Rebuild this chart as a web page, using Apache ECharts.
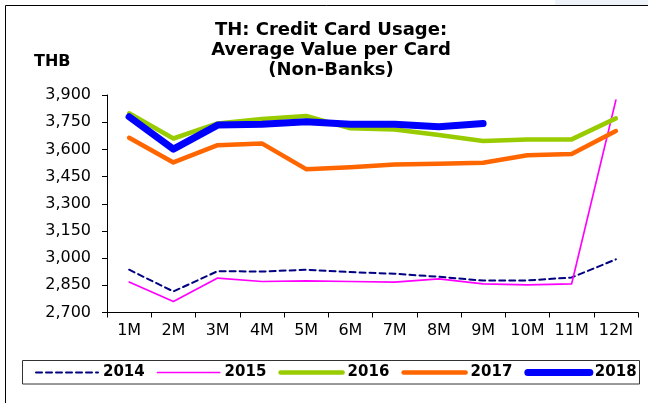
<!DOCTYPE html>
<html>
<head>
<meta charset="utf-8">
<script src="https://cdn.jsdelivr.net/npm/echarts@6/dist/echarts.min.js"></script>
<style>
  html, body { margin: 0; padding: 0; background: #fff; }
  #chart { width: 648px; height: 403px; }
</style>
</head>
<body>
<div id="chart"></div>
<script>
// Months on the category axis
const months = ['1M', '2M', '3M', '4M', '5M', '6M', '7M', '8M', '9M', '10M', '11M', '12M'];

// Average value per card (THB), non-bank issuers
const v2014 = [2936, 2816, 2928, 2926, 2936, 2923, 2914, 2897, 2876, 2877, 2893, 2993];
const v2015 = [2868, 2761, 2890, 2871, 2875, 2871, 2868, 2886, 2858, 2852, 2858, 3872];
const v2016 = [3799, 3660, 3743, 3767, 3784, 3716, 3710, 3679, 3646, 3655, 3655, 3771];
const v2017 = [3664, 3528, 3623, 3633, 3491, 3502, 3517, 3521, 3526, 3568, 3575, 3701];
const v2018 = [3780, 3601, 3734, 3738, 3753, 3738, 3738, 3725, 3743];

const yMin = 2700, yMax = 3900, yStep = 150;

const titleText = 'TH: Credit Card Usage:\nAverage Value per Card\n(Non-Banks)';
const unitText = 'THB';

const boldFont = '"DejaVu Sans", "Liberation Sans", Arial, sans-serif';
const axisFont = '"DejaVu Sans", "Liberation Sans", Arial, sans-serif';

// per-year line looks: colour, width, dash
const styles = {
  '2014': { color: '#000080', width: 2, type: [6, 4] },
  '2015': { color: '#ff00ff', width: 1.7, type: 'solid' },
  '2016': { color: '#99cc00', width: 4.5, type: 'solid' },
  '2017': { color: '#ff6600', width: 4.5, type: 'solid' },
  '2018': { color: '#0000ff', width: 7, type: 'solid' }
};

function lineSeries(name, data) {
  const s = styles[name];
  return {
    name: name,
    type: 'line',
    data: data,
    symbol: 'none',
    smooth: false,
    animation: false,
    lineStyle: { color: s.color, width: s.width, type: s.type, cap: 'round', join: 'round' },
    itemStyle: { color: s.color }
  };
}

function legendItem(name) {
  const s = styles[name];
  return {
    name: name,
    itemStyle: { opacity: 0 },
    lineStyle: { color: s.color, width: s.width, type: s.type, cap: 'round' }
  };
}

const chart = echarts.init(document.getElementById('chart'), null, { renderer: 'canvas' });

chart.setOption({
  backgroundColor: '#ffffff',
  animation: false,
  title: {
    text: titleText,
    left: 331,
    top: 20,
    textAlign: 'center',
    padding: 0,
    textStyle: {
      fontFamily: boldFont,
      fontWeight: 'bold',
      fontSize: 18,
      lineHeight: 20,
      color: '#000'
    }
  },
  graphic: [
    // light band above the frame at the top right
    { type: 'rect', shape: { x: 555, y: 0, width: 93, height: 5 }, style: { fill: '#eef2f9' }, silent: true },
    // outer frame (top and left edges)
    { type: 'line', shape: { x1: 5.5, y1: 5.5, x2: 648, y2: 5.5 }, style: { stroke: '#000', lineWidth: 1 }, silent: true },
    { type: 'line', shape: { x1: 5.5, y1: 5.5, x2: 5.5, y2: 403 }, style: { stroke: '#000', lineWidth: 1 }, silent: true },
    // legend box
    { type: 'rect', shape: { x: 22.5, y: 360.5, width: 617, height: 23.5 }, style: { fill: 'none', stroke: '#333', lineWidth: 1 }, silent: true },
    // unit label
    {
      type: 'text', left: 34, top: 54,
      style: { text: unitText, fontFamily: boldFont, fontWeight: 'bold', fontSize: 16, fill: '#000' },
      silent: true
    }
  ],
  legend: {
    left: 35,
    top: 365,
    width: 613,
    padding: 0,
    itemWidth: 62,
    itemHeight: 14,
    itemGap: 12,
    textStyle: {
      fontFamily: boldFont,
      fontWeight: 'bold',
      fontSize: 15,
      color: '#000'
    },
    data: ['2014', '2015', '2016', '2017', '2018'].map(legendItem)
  },
  grid: {
    left: 107,
    right: 10,
    top: 95,
    bottom: 90.5,
    containLabel: false
  },
  xAxis: {
    type: 'category',
    data: months,
    boundaryGap: true,
    axisLine: { lineStyle: { color: '#000', width: 1 } },
    axisTick: { show: true, length: 5, lineStyle: { color: '#000' } },
    axisLabel: {
      interval: 0,
      hideOverlap: false,
      margin: 10,
      fontFamily: axisFont,
      fontSize: 16,
      color: '#000'
    },
    splitLine: { show: false }
  },
  yAxis: {
    type: 'value',
    min: yMin,
    max: yMax,
    interval: yStep,
    axisLine: { show: true, lineStyle: { color: '#000', width: 1 } },
    axisTick: { show: true, length: 5, lineStyle: { color: '#000' } },
    axisLabel: {
      margin: 16,
      fontFamily: axisFont,
      fontSize: 16,
      color: '#000',
      formatter: function (v) { return v.toLocaleString('en-US'); }
    },
    splitLine: { show: false }
  },
  series: [
    lineSeries('2014', v2014),
    lineSeries('2015', v2015),
    lineSeries('2016', v2016),
    lineSeries('2017', v2017),
    lineSeries('2018', v2018)
  ]
});
</script>
</body>
</html>
